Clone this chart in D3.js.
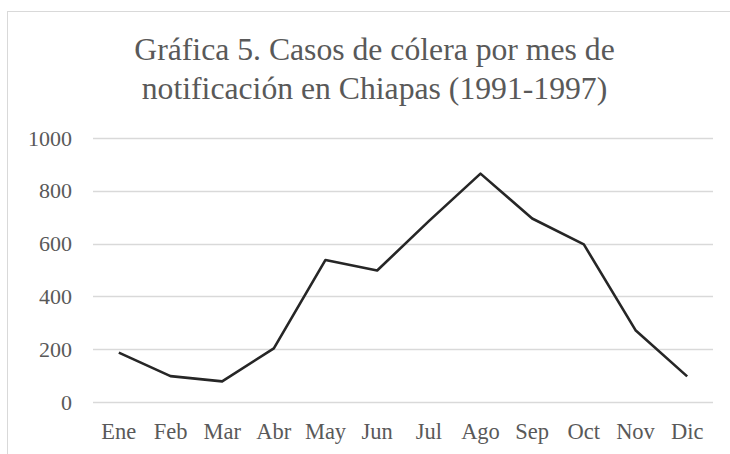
<!DOCTYPE html>
<html>
<head>
  <meta charset="utf-8">
  <script src="https://d3js.org/d3.v7.min.js"></script>
  <style>
    body { margin: 0; padding: 0; background: #fff; }
    svg { display: block; }
  </style>
</head>
<body>
  <script>
    // casos por mes
    var months = ['Ene', 'Feb', 'Mar', 'Abr', 'May', 'Jun', 'Jul', 'Ago', 'Sep', 'Oct', 'Nov', 'Dic'],
      cases = [187, 98, 78, 203, 538, 498, 685, 865, 695, 597, 272, 97],
      yTicks = [0, 200, 400, 600, 800, 1000],
      titleLines = ['Gráfica 5. Casos de cólera por mes de', 'notificación en Chiapas (1991-1997)'];

    var width = 730,
      height = 454;
    var margin = { top: 138, right: 17, bottom: 52, left: 93 };
    var serif = "'Liberation Serif'";

    var svg = d3.select('body').append('svg')
      .attr('width', width)
      .attr('height', height);

    // chart frame (cut by the picture edge)
    svg.append('rect')
      .attr('x', 7.5).attr('y', 11.5)
      .attr('width', width + 20).attr('height', height + 20)
      .attr('fill', 'none')
      .attr('stroke', '#d9d9d9');

    var x = d3.scaleBand().domain(months).range([margin.left, width - margin.right]);
    var y = d3.scaleLinear().domain([0, 1000]).range([height - margin.bottom, margin.top]);

    // gridlines
    svg.append('g')
      .selectAll('line')
      .data(yTicks)
      .enter().append('line')
      .attr('x1', margin.left)
      .attr('x2', width - margin.right)
      .attr('y1', function (d) { return Math.round(y(d)) + 0.5; })
      .attr('y2', function (d) { return Math.round(y(d)) + 0.5; })
      .attr('stroke', '#d9d9d9')
      .attr('stroke-width', 1.3);

    var yAxis = svg.append('g')
      .attr('transform', 'translate(' + (margin.left - 21) + ',0)')
      .call(d3.axisLeft(y).tickValues(yTicks).tickFormat(d3.format('d')).tickSize(0).tickPadding(0));
    yAxis.select('.domain').remove();
    yAxis.selectAll('text')
      .style('font-family', serif)
      .style('font-size', '22px')
      .attr('fill', '#595959');

    var xAxis = svg.append('g')
      .attr('transform', 'translate(0,' + (height - margin.bottom) + ')')
      .call(d3.axisBottom(x).tickSize(0).tickPadding(21));
    xAxis.select('.domain').remove();
    xAxis.selectAll('text')
      .style('font-family', serif)
      .style('font-size', '22.5px')
      .attr('fill', '#595959');

    var line = d3.line()
      .x(function (d, i) { return x(months[i]) + x.bandwidth() / 2; })
      .y(function (d) { return y(d); });

    svg.append('path')
      .datum(cases)
      .attr('d', line)
      .attr('fill', 'none')
      .attr('stroke', '#262626')
      .attr('stroke-width', 2.6)
      .attr('stroke-linejoin', 'round');

    svg.append('g')
      .selectAll('text')
      .data(titleLines)
      .enter().append('text')
      .attr('x', 374.5)
      .attr('y', function (d, i) { return 60 + i * 38.5; })
      .attr('text-anchor', 'middle')
      .style('font-family', serif)
      .style('font-size', '31.7px')
      .attr('fill', '#595959')
      .text(function (d) { return d; });
  </script>
</body>
</html>
